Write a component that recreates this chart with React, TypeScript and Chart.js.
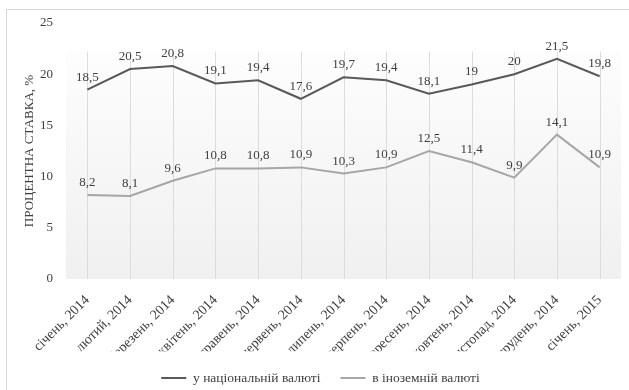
import React, { useEffect, useRef } from "react";
import { Chart, registerables } from "chart.js";

Chart.register(...registerables);

// Months on the category axis
const CATEGORIES = [
  "січень, 2014",
  "лютий, 2014",
  "березень, 2014",
  "квітень, 2014",
  "травень, 2014",
  "червень, 2014",
  "липень, 2014",
  "серпень, 2014",
  "вересень, 2014",
  "жовтень, 2014",
  "листопад, 2014",
  "грудень, 2014",
  "січень, 2015",
];

// Interest rates, %
const NATIONAL = [18.5, 20.5, 20.8, 19.1, 19.4, 17.6, 19.7, 19.4, 18.1, 19, 20, 21.5, 19.8];
const FOREIGN = [8.2, 8.1, 9.6, 10.8, 10.8, 10.9, 10.3, 10.9, 12.5, 11.4, 9.9, 14.1, 10.9];

const SERIES_NAMES = ["у національній валюті", "в іноземній валюті"];
const Y_TITLE = "ПРОЦЕНТНА СТАВКА, %";
const Y_MIN = 0;
const Y_MAX = 25;
const Y_STEP = 5;

const FONT_FAMILY = "'Liberation Serif', 'Times New Roman', serif";
const TEXT_COLOR = "#404040";
const FILL_TOP_VALUE = 22.2;

const formatValue = (v: number) => String(v).replace(".", ",");

// Shaded plot background with vertical category grid lines
const plotBackground = {
  id: "plotBackground",
  beforeDatasetsDraw(chart: any) {
    const { ctx, chartArea, scales } = chart;
    const x = scales.x;
    const y = scales.y;
    const top = y.getPixelForValue(FILL_TOP_VALUE);
    const bottom = chartArea.bottom;
    ctx.save();
    const g = ctx.createLinearGradient(0, top, 0, bottom);
    g.addColorStop(0, "#fdfdfd");
    g.addColorStop(1, "#f0f0f0");
    ctx.fillStyle = g;
    ctx.fillRect(chartArea.left, top, chartArea.right - chartArea.left, bottom - top);
    ctx.strokeStyle = "#dcdcdc";
    ctx.lineWidth = 1;
    for (let i = 0; i < CATEGORIES.length; i++) {
      const px = Math.round(x.getPixelForValue(i)) + 0.5;
      ctx.beginPath();
      ctx.moveTo(px, top);
      ctx.lineTo(px, bottom);
      ctx.stroke();
    }
    ctx.restore();
  },
};

// Value labels above each point
const valueLabels = {
  id: "valueLabels",
  afterDatasetsDraw(chart: any) {
    const { ctx } = chart;
    ctx.save();
    ctx.font = `13px ${FONT_FAMILY}`;
    ctx.fillStyle = TEXT_COLOR;
    ctx.textAlign = "center";
    ctx.textBaseline = "alphabetic";
    chart.data.datasets.forEach((ds: any, di: number) => {
      const meta = chart.getDatasetMeta(di);
      meta.data.forEach((pt: any, i: number) => {
        ctx.fillText(formatValue(ds.data[i]), pt.x, pt.y - 9);
      });
    });
    ctx.restore();
  },
};

export default function App() {
  const canvasRef = useRef<HTMLCanvasElement | null>(null);

  useEffect(() => {
    const canvas = canvasRef.current;
    if (!canvas) return;
    const chart = new Chart(canvas, {
      type: "line",
      data: {
        labels: CATEGORIES,
        datasets: [
          {
            label: SERIES_NAMES[0],
            data: NATIONAL,
            borderColor: "#595959",
            backgroundColor: "#595959",
            borderWidth: 2,
            pointRadius: 0,
            tension: 0,
          },
          {
            label: SERIES_NAMES[1],
            data: FOREIGN,
            borderColor: "#a6a6a6",
            backgroundColor: "#a6a6a6",
            borderWidth: 2,
            pointRadius: 0,
            tension: 0,
          },
        ],
      },
      options: {
        animation: false,
        responsive: false,
        maintainAspectRatio: false,
        layout: { padding: { left: 20, top: 23, right: 8, bottom: 15.25 } },
        plugins: {
          tooltip: { enabled: false },
          legend: {
            position: "bottom",
            labels: {
              usePointStyle: true,
              pointStyle: "line",
              pointStyleWidth: 25,
              padding: 20,
              color: TEXT_COLOR,
              font: { family: FONT_FAMILY, size: 13.5 },
            },
          },
        },
        scales: {
          x: {
            offset: true,
            grid: { display: false, drawTicks: false },
            border: { display: false },
            ticks: {
              autoSkip: false,
              minRotation: 45,
              maxRotation: 45,
              padding: 13,
              color: TEXT_COLOR,
              font: { family: FONT_FAMILY, size: 14 },
            },
            afterFit(scale: any) {
              scale.height = 72.25;
            },
          },
          y: {
            min: Y_MIN,
            max: Y_MAX,
            grid: { display: false, drawTicks: false },
            border: { display: false },
            ticks: {
              stepSize: Y_STEP,
              padding: 13,
              color: TEXT_COLOR,
              font: { family: FONT_FAMILY, size: 13 },
            },
            title: {
              display: true,
              text: Y_TITLE,
              color: TEXT_COLOR,
              padding: { top: 2, bottom: 0 },
              font: { family: FONT_FAMILY, size: 13 },
            },
            afterFit(scale: any) {
              scale.width = 46;
            },
          },
        },
      },
      plugins: [plotBackground, valueLabels],
    });
    return () => chart.destroy();
  }, []);

  return (
    <div
      style={{
        position: "fixed",
        left: 0,
        top: 0,
        width: 629,
        height: 390,
        overflow: "hidden",
        background: "#ffffff",
      }}
    >
      <div
        style={{
          position: "absolute",
          left: 6,
          top: 9,
          width: 700,
          height: 500,
          borderTop: "1px solid #d9d9d9",
          borderLeft: "1px solid #d9d9d9",
        }}
      />
      <canvas
        ref={canvasRef}
        width={629}
        height={410}
        style={{ position: "absolute", left: 0, top: 0, width: 629, height: 410 }}
      />
    </div>
  );
}
